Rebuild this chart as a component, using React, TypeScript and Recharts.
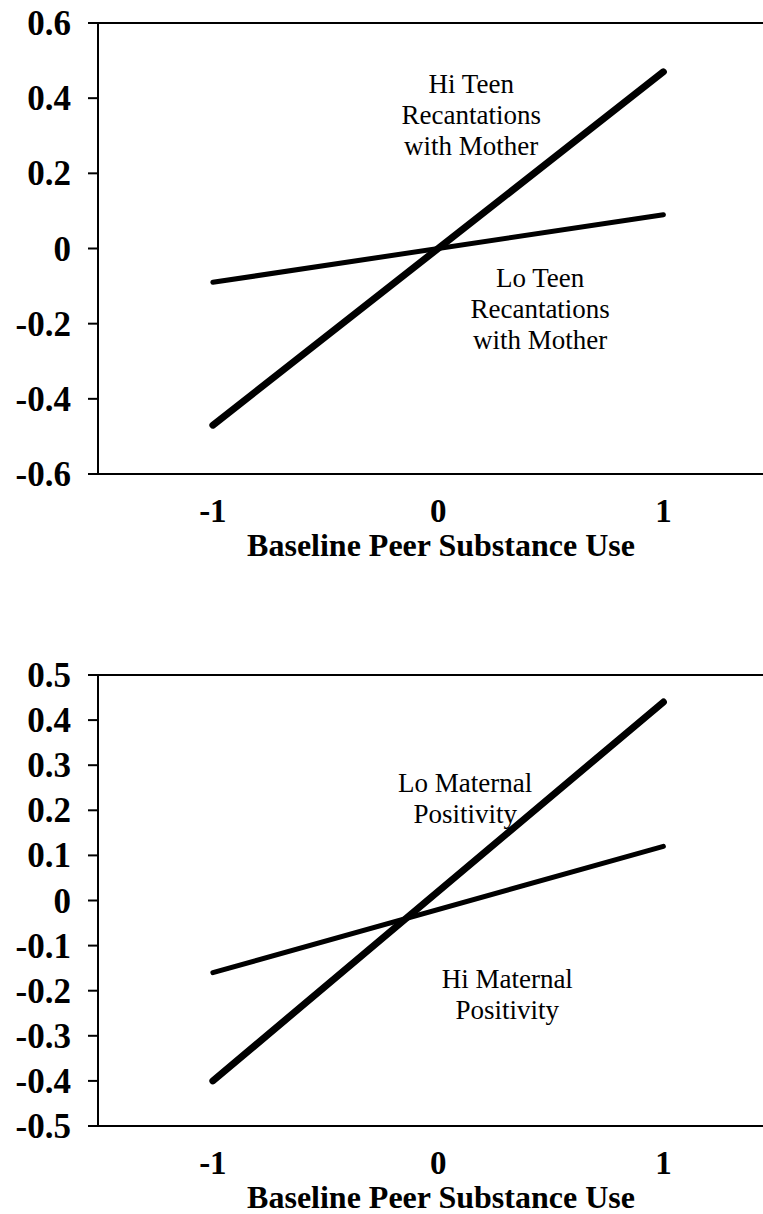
import React from "react";
import {
  LineChart,
  Line,
  XAxis,
  YAxis,
  ReferenceLine,
  ReferenceDot,
  Label,
} from "recharts";

const FONT = '"Liberation Serif", "Times New Roman", serif';

// shared x values (Baseline Peer Substance Use)
const xValues = [-1, 1];
const xTicks = [-1, 0, 1];

// top panel: teen recantations with mother
const hiRecant = [-0.47, 0.47];
const loRecant = [-0.09, 0.09];
const topTicks = [-0.6, -0.4, -0.2, 0, 0.2, 0.4, 0.6];

// bottom panel: maternal positivity
const loPositivity = [-0.4, 0.44];
const hiPositivity = [-0.16, 0.12];
const bottomTicks = [-0.5, -0.4, -0.3, -0.2, -0.1, 0, 0.1, 0.2, 0.3, 0.4, 0.5];

const topData = xValues.map((x, i) => ({ x, a: hiRecant[i], b: loRecant[i] }));
const bottomData = xValues.map((x, i) => ({
  x,
  a: loPositivity[i],
  b: hiPositivity[i],
}));

const fmt = (v: number) => String(Math.round(v * 10) / 10);

const YTick = (props: any) => {
  const { x, y, payload } = props;
  return (
    <text
      x={x}
      y={y + 12}
      textAnchor="end"
      fontSize={35}
      fontWeight="bold"
      fontFamily={FONT}
      fill="#000"
    >
      {fmt(payload.value)}
    </text>
  );
};

const XTick = (props: any) => {
  const { x, y, payload } = props;
  return (
    <text
      x={x}
      y={y + 48}
      textAnchor="middle"
      fontSize={33}
      fontWeight="bold"
      fontFamily={FONT}
      fill="#000"
    >
      {fmt(payload.value)}
    </text>
  );
};

const AxisTitle = (props: any) => {
  const vb = props.viewBox || {};
  return (
    <text
      x={(vb.x ?? 98) + 343}
      y={(vb.y ?? 474) + 82}
      textAnchor="middle"
      fontSize={32}
      fontWeight="bold"
      fontFamily={FONT}
      fill="#000"
    >
      Baseline Peer Substance Use
    </text>
  );
};

const Note = ({ viewBox, lines }: any) => {
  const cx = viewBox.x + (viewBox.width || 0) / 2;
  const cy = viewBox.y + (viewBox.height || 0) / 2;
  return (
    <text textAnchor="middle" fontSize={27} fontFamily={FONT} fill="#000">
      {lines.map((l: string, i: number) => (
        <tspan key={i} x={cx} y={cy + i * 31}>
          {l}
        </tspan>
      ))}
    </text>
  );
};

interface PanelProps {
  data: { x: number; a: number; b: number }[];
  ticks: number[];
  notes: { x: number; y: number; lines: string[] }[];
}

const Panel = ({ data, ticks, notes }: PanelProps) => {
  const lo = ticks[0];
  const hi = ticks[ticks.length - 1];
  return (
    <LineChart
      width={776}
      height={600}
      data={data}
      margin={{ top: 23, right: 0, bottom: 0, left: 0 }}
    >
      <XAxis
        type="number"
        dataKey="x"
        domain={[-1.51, 1.5]}
        ticks={xTicks}
        allowDataOverflow
        height={126}
        tickLine={false}
        tickSize={0}
        tickMargin={0}
        axisLine={{ stroke: "#000", strokeWidth: 2 }}
        tick={<XTick />}
      >
        <Label content={<AxisTitle />} />
      </XAxis>
      <YAxis
        type="number"
        domain={[lo, hi]}
        ticks={ticks}
        width={98}
        tickSize={10}
        tickMargin={17}
        interval={0}
        axisLine={{ stroke: "#000", strokeWidth: 2 }}
        tickLine={{ stroke: "#000", strokeWidth: 2 }}
        tick={<YTick />}
      />
      <ReferenceLine y={hi} stroke="#000" strokeWidth={2} />
      {notes.map((n, i) => (
        <ReferenceDot
          key={i}
          x={n.x}
          y={n.y}
          r={1}
          fill="none"
          stroke="none"
          label={(p: any) => <Note {...p} lines={n.lines} />}
        />
      ))}
      <Line
        type="linear"
        dataKey="b"
        stroke="#000"
        strokeWidth={5}
        strokeLinecap="round"
        dot={false}
        activeDot={false}
        isAnimationActive={false}
      />
      <Line
        type="linear"
        dataKey="a"
        stroke="#000"
        strokeWidth={7}
        strokeLinecap="round"
        dot={false}
        activeDot={false}
        isAnimationActive={false}
      />
    </LineChart>
  );
};

export default function App() {
  return (
    <div
      style={{
        position: "absolute",
        left: 0,
        top: 0,
        width: 763,
        height: 1214,
        overflow: "hidden",
        background: "#fff",
      }}
    >
      <div style={{ position: "absolute", left: 0, top: 0 }}>
        <Panel
          data={topData}
          ticks={topTicks}
          notes={[
            { x: 0.147, y: 0.414, lines: ["Hi Teen", "Recantations", "with Mother"] },
            { x: 0.453, y: -0.102, lines: ["Lo Teen", "Recantations", "with Mother"] },
          ]}
        />
      </div>
      <div style={{ position: "absolute", left: 0, top: 652 }}>
        <Panel
          data={bottomData}
          ticks={bottomTicks}
          notes={[
            { x: 0.12, y: 0.241, lines: ["Lo Maternal", "Positivity"] },
            { x: 0.307, y: -0.194, lines: ["Hi Maternal", "Positivity"] },
          ]}
        />
      </div>
    </div>
  );
}
